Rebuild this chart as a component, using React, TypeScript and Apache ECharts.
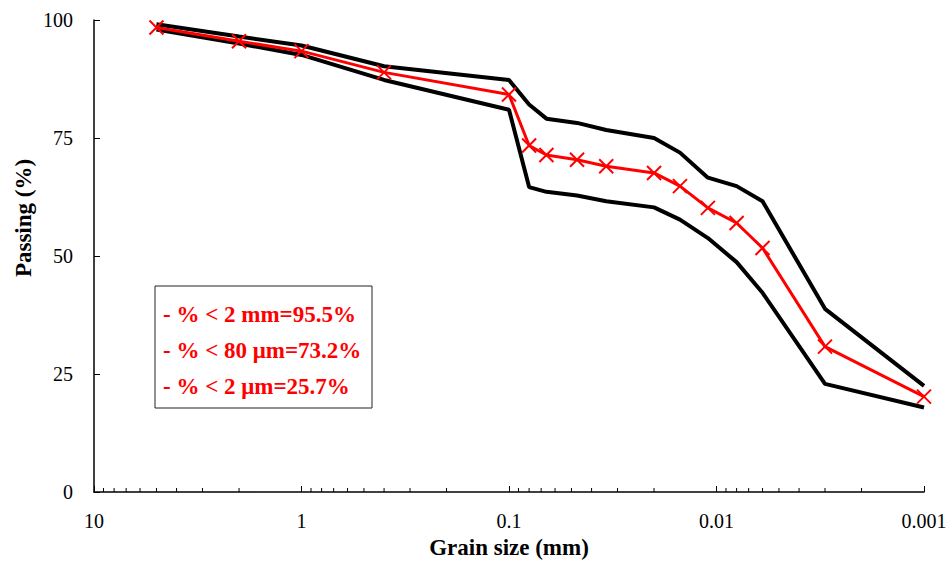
import React, { useEffect, useRef } from "react";
import * as echarts from "echarts";

// Grain sizes (mm) shared by all three curves
const grainSizes = [5, 2, 1, 0.4, 0.1, 0.08, 0.066, 0.047, 0.034, 0.02, 0.015, 0.011, 0.008, 0.006, 0.003, 0.001];
// Passing (%) — measured curve (red)
const measured = [98.4, 95.5, 93.4, 88.9, 84.2, 73.4, 71.4, 70.4, 69.0, 67.6, 64.8, 60.2, 57.0, 51.7, 30.8, 20.2];
// Upper envelope (black)
const upperBound = [99.1, 96.5, 94.6, 90.2, 87.3, 82.1, 79.1, 78.2, 76.7, 75.0, 71.9, 66.6, 64.8, 61.6, 38.8, 22.5];
// Lower envelope (black)
const lowerBound = [98.0, 95.0, 92.6, 87.3, 81.0, 64.6, 63.6, 62.8, 61.6, 60.3, 57.7, 53.8, 48.7, 42.2, 22.9, 17.9];

const yTicks = [0, 25, 50, 75, 100];
const decades = [10, 1, 0.1, 0.01];
const minorMultipliers = [2, 3, 4, 5, 6, 7, 8, 9];

const legendLines = ["- % < 2 mm=95.5%", "- % < 80 μm=73.2%", "- % < 2 μm=25.7%"];

const FONT = "Liberation Serif";

export default function App() {
  const ref = useRef<HTMLDivElement>(null);

  useEffect(() => {
    document.body.style.margin = "0";
    if (!ref.current) return;
    const chart = echarts.init(ref.current, null, { renderer: "svg" });

    const minorTickValues: number[] = [];
    decades.forEach((d) => {
      minorMultipliers.forEach((m) => minorTickValues.push((d / 10) * m));
    });

    const pair = (ys: number[]) => grainSizes.map((x, i) => [x, ys[i]]);

    const option: any = {
      animation: false,
      backgroundColor: "#ffffff",
      grid: { left: 94, right: 27, top: 20, bottom: 72, containLabel: false },
      xAxis: {
        type: "log",
        logBase: 10,
        min: 0.001,
        max: 10,
        inverse: true,
        name: "Grain size (mm)",
        nameLocation: "middle",
        nameGap: 44,
        nameTextStyle: { fontFamily: FONT, fontSize: 23, fontWeight: "bold", color: "#000" },
        axisLine: { onZero: false, lineStyle: { color: "#000", width: 1.5 } },
        axisTick: { show: true, inside: true, length: 6, lineStyle: { color: "#000", width: 1 } },
        axisLabel: {
          fontFamily: FONT,
          fontSize: 20,
          color: "#000",
          margin: 19,
          formatter: (v: number) => String(Number(v.toPrecision(3))),
        },
        splitLine: { show: false },
      },
      yAxis: {
        type: "value",
        min: 0,
        max: 100,
        interval: 25,
        axisLine: { show: true, lineStyle: { color: "#000", width: 1.5 } },
        axisTick: { show: true, inside: true, length: 6, lineStyle: { color: "#000", width: 1 } },
        axisLabel: {
          fontFamily: FONT,
          fontSize: 20,
          color: "#000",
          margin: 21,
          formatter: (v: number) => (yTicks.includes(v) ? String(v) : ""),
        },
        splitLine: { show: false },
      },
      series: [
        {
          type: "custom",
          silent: true,
          clip: false,
          data: minorTickValues.map((v) => [v, 0]),
          renderItem: (params: any, api: any) => {
            const p = api.coord([api.value(0), 0]);
            return {
              type: "line",
              shape: { x1: p[0], y1: p[1], x2: p[0], y2: p[1] - 4 },
              style: { stroke: "#000", lineWidth: 1 },
            };
          },
          z: 1,
        },
        {
          name: "Upper",
          type: "line",
          data: pair(upperBound),
          showSymbol: false,
          symbol: "none",
          lineStyle: { color: "#000", width: 4 },
          z: 2,
        },
        {
          name: "Lower",
          type: "line",
          data: pair(lowerBound),
          showSymbol: false,
          symbol: "none",
          lineStyle: { color: "#000", width: 4 },
          z: 2,
        },
        {
          name: "Measured",
          type: "line",
          data: pair(measured),
          symbol: "path://M0,0L10,10M10,0L0,10",
          symbolSize: 14,
          itemStyle: { color: "#ff0000", borderColor: "#ff0000", borderWidth: 2 },
          lineStyle: { color: "#ff0000", width: 3 },
          z: 3,
        },
      ],
      graphic: [
        {
          type: "text",
          x: 23,
          y: 218,
          rotation: Math.PI / 2,
          style: {
            text: "Passing (%)",
            fontFamily: FONT,
            fontSize: 23,
            fontWeight: "bold",
            fill: "#000",
            textAlign: "center",
            textVerticalAlign: "middle",
          },
        },
        {
          type: "rect",
          shape: { x: 155, y: 286, width: 217, height: 122 },
          style: { fill: "#fff", stroke: "#222", lineWidth: 1 },
          z: 10,
        },
        ...legendLines.map((t, i) => ({
          type: "text",
          x: 163,
          y: 314 + i * 36,
          z: 11,
          style: {
            text: t,
            fontFamily: FONT,
            fontSize: 23,
            fontWeight: "bold",
            fill: "#ff0000",
            textAlign: "left",
            textVerticalAlign: "middle",
          },
        })),
      ],
    };

    chart.setOption(option);
    return () => chart.dispose();
  }, []);

  return <div ref={ref} style={{ width: 951, height: 564 }} />;
}
